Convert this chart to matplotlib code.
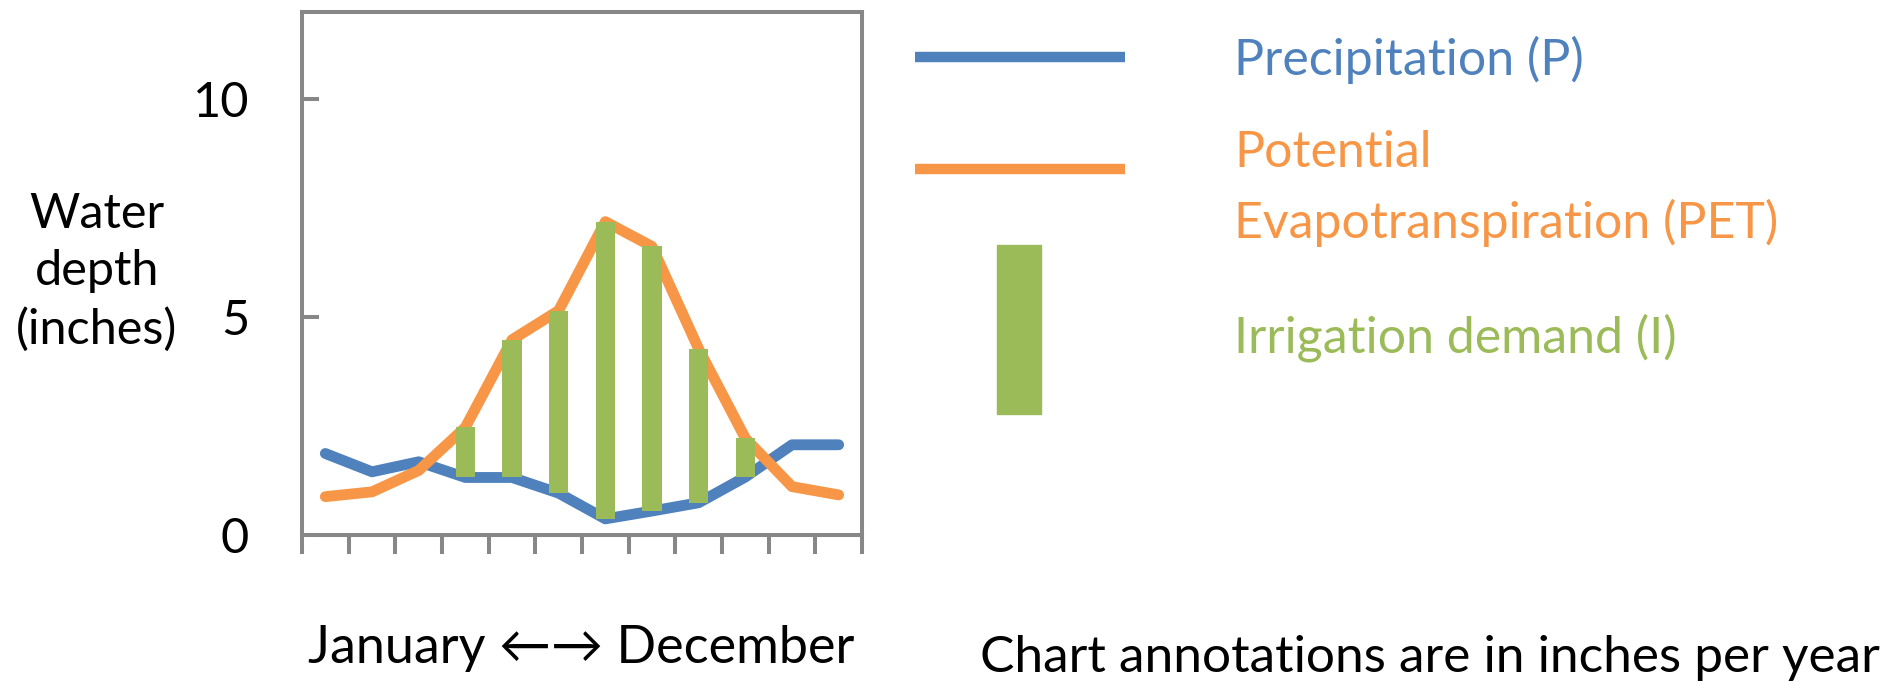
import numpy as np
import matplotlib
matplotlib.use("Agg")
import matplotlib.pyplot as plt
from matplotlib.lines import Line2D
from matplotlib.patches import Rectangle

# monthly water balance, inches
months = ["Jan", "Feb", "Mar", "Apr", "May", "Jun",
          "Jul", "Aug", "Sep", "Oct", "Nov", "Dec"]
precip = [1.87, 1.45, 1.68, 1.32, 1.32, 0.96, 0.37, 0.55, 0.74, 1.33, 2.07, 2.07]
pet = [0.88, 0.99, 1.48, 2.47, 4.48, 5.15, 7.19, 6.62, 4.27, 2.22, 1.11, 0.92]

C_P = "#4F81BD"
C_PET = "#F79646"
C_I = "#9BBB59"
C_AX = "#878787"

W, H = 1893, 682
plt.rcParams["font.family"] = ["Lato", "DejaVu Sans"]
FS = 35


def fx(x):
    return x / W


def fy(y):
    return 1 - y / H


fig = plt.figure(figsize=(W / 100, H / 100), dpi=100)
ax = fig.add_axes([fx(302), fy(535), fx(862) - fx(302), fy(12) - fy(535)])

x = np.arange(len(months)) + 0.5
P = np.array(precip)
E = np.array(pet)
need = E > P

ax.plot(x, P, color=C_P, lw=7.8, solid_capstyle="round", solid_joinstyle="round", zorder=2)
ax.plot(x, E, color=C_PET, lw=7.8, solid_capstyle="round", solid_joinstyle="round", zorder=2)
ax.bar(x[need], (E - P)[need], bottom=P[need], width=0.41, color=C_I, zorder=3)

ax.set_xlim(0, 12)
ax.set_ylim(0, 12)
ax.set_xticks(np.arange(13))
ax.set_xticklabels([])
ax.set_yticks([0, 5, 10])
ax.tick_params(axis="x", direction="out", length=14, width=2.9, color=C_AX)
ax.tick_params(axis="y", direction="in", length=12, width=2.9, color=C_AX,
               labelsize=FS, pad=38)
for s in ax.spines.values():
    s.set_color(C_AX)
    s.set_linewidth(2.9)

fig.text(fx(97), fy(272), "Water\ndepth\n(inches)", fontsize=FS, ha="center",
         va="center", linespacing=1.36)
fig.text(fx(581), fy(648), "January \u2190\u2192 December", fontsize=37.5,
         ha="center", va="center")
fig.text(fx(980), fy(658), "Chart annotations are in inches per year",
         fontsize=37, ha="left", va="center")

# legend, drawn by hand
for yy, col in ((57, C_P), (169, C_PET)):
    fig.add_artist(Line2D([fx(915), fx(1125)], [fy(yy), fy(yy)], color=col,
                          lw=7.5, solid_capstyle="butt"))
fig.add_artist(Rectangle((fx(997), fy(414)), fx(1041) - fx(997), fy(245) - fy(414),
                         color=C_I, transform=fig.transFigure))
LFS = 36
fig.text(fx(1234), fy(60), "Precipitation (P)", color=C_P, fontsize=LFS, va="center")
fig.text(fx(1234), fy(153), "Potential", color=C_PET, fontsize=LFS, va="center")
fig.text(fx(1234), fy(223), "Evapotranspiration (PET)", color=C_PET, fontsize=LFS,
         va="center")
fig.text(fx(1234), fy(338), "Irrigation demand (I)", color=C_I, fontsize=LFS,
         va="center")

fig.savefig("out.png", dpi=100)
